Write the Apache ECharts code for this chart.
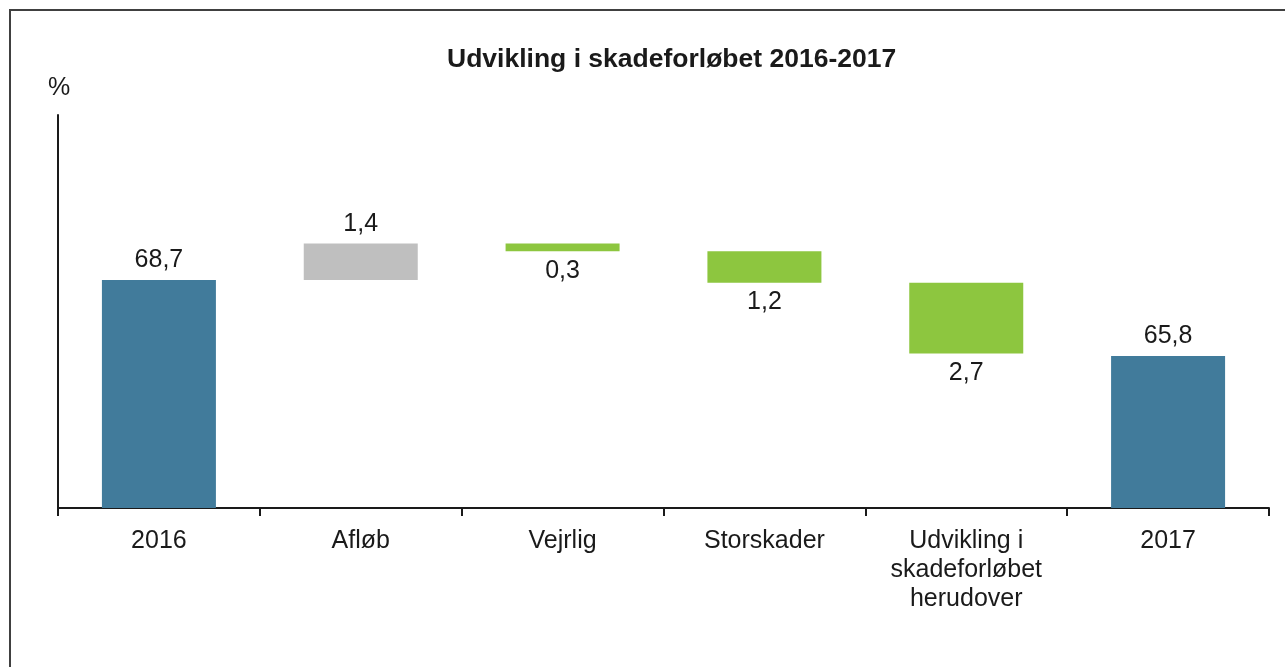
<!DOCTYPE html>
<html>
<head>
<meta charset="utf-8">
<script src="https://cdn.jsdelivr.net/npm/echarts@6/dist/echarts.min.js"></script>
<style>
  html, body { margin: 0; padding: 0; background: #fff; }
  #main { width: 1285px; height: 667px; }
</style>
</head>
<body>
<div id="main"></div>
<script>
// data
var categories = ['2016', 'Afløb', 'Vejrlig', 'Storskader', 'Udvikling i\nskadeforløbet\nherudover', '2017'];
var changes = [68.7, 1.4, -0.3, -1.2, -2.7, 65.8];
var isTotal = [true, false, false, false, false, true];

var blue = '#417b9b', gray = '#bfbfbf', green = '#8dc63f';
var font = 'Liberation Sans, Arial, sans-serif';

// waterfall: invisible base + visible step
var baseData = [], stepData = [];
var level = 0;
for (var i = 0; i < changes.length; i++) {
    var v = changes[i];
    if (isTotal[i]) {
        baseData.push(0);
        stepData.push({ value: v, itemStyle: { color: blue }, label: { position: 'top' } });
        level = v;
    } else if (v >= 0) {
        baseData.push(level);
        stepData.push({ value: v, itemStyle: { color: gray }, label: { position: 'top' } });
        level = level + v;
    } else {
        level = level + v;
        baseData.push(level);
        stepData.push({ value: -v, itemStyle: { color: green }, label: { position: 'bottom' } });
    }
}

var chart = echarts.init(document.getElementById('main'));
var option = {
    animation: false,
    textStyle: { fontFamily: font },
    title: {
        text: 'Udvikling i skadeforløbet 2016-2017',
        left: 442,
        top: 41,
        textStyle: { fontSize: 26.5, fontWeight: 'bold', color: '#1a1a1a', fontFamily: font }
    },
    graphic: [
        {
            type: 'rect',
            shape: { x: 10, y: 10, width: 1300, height: 700 },
            style: { fill: 'none', stroke: '#404040', lineWidth: 2 }
        },
        {
            type: 'text',
            left: 48, top: 76,
            style: { text: '%', fontSize: 25, fill: '#1a1a1a', fontFamily: font }
        }
    ],
    grid: { left: 58, right: 16, top: 115, bottom: 159 },
    xAxis: {
        type: 'category',
        data: categories,
        axisLine: { lineStyle: { color: '#1a1a1a', width: 2 } },
        axisTick: { show: true, length: 8, lineStyle: { color: '#1a1a1a', width: 2 } },
        axisLabel: { color: '#1a1a1a', fontSize: 25, lineHeight: 29, margin: 19, interval: 0 }
    },
    yAxis: {
        type: 'value',
        min: 60,
        max: 75,
        interval: 15,
        axisLine: { show: true, lineStyle: { color: '#1a1a1a', width: 2 } },
        axisTick: { show: false },
        axisLabel: { show: false },
        splitLine: { show: false }
    },
    series: [
        {
            type: 'bar',
            stack: 'w',
            data: baseData,
            barWidth: 114,
            itemStyle: { color: 'transparent' },
            silent: true
        },
        {
            type: 'bar',
            stack: 'w',
            data: stepData,
            barWidth: 114,
            label: {
                show: true,
                fontSize: 25,
                color: '#1a1a1a',
                distance: 7,
                formatter: function (p) { return p.value.toFixed(1).replace('.', ','); }
            }
        }
    ]
};
chart.setOption(option);
</script>
</body>
</html>
